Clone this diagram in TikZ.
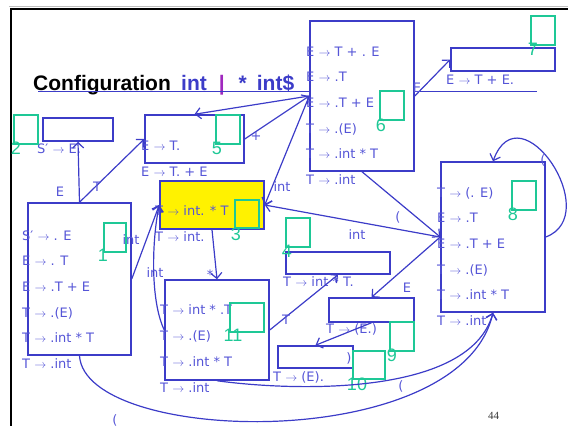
\documentclass[tikz,border=0pt]{standalone}
\usepackage{fontspec}
\setmainfont{Liberation Sans}
\newfontfamily\itemfont{DejaVu Sans}
\newfontfamily\pagefont{Liberation Serif}
\usetikzlibrary{arrows.meta,positioning}
\definecolor{slideBlue}{RGB}{60,60,200}
\definecolor{itemBlue}{RGB}{85,85,215}
\definecolor{markGreen}{RGB}{30,200,150}
\definecolor{cursorPurple}{RGB}{160,40,190}
\newcommand{\yields}{\ensuremath{\rightarrow}}

\begin{document}
\begin{tikzpicture}[
  x=1pt, y=-1pt,
  every node/.style={inner sep=0pt},
  state/.style={
    draw=slideBlue,
    fill=white,
    line width=1.5pt
  },
  greenbox/.style={
    draw=markGreen,
    line width=1.4pt,
    minimum width=24,
    minimum height=29
  },
  statenum/.style={text=markGreen, font=\fontsize{18}{18}\selectfont},
  items/.style={
    text=itemBlue,
    font=\itemfont\fontsize{13}{25.7}\selectfont,
    align=left,
    anchor=base west
  },
  lbl/.style={text=itemBlue, font=\itemfont\fontsize{13}{13}\selectfont},
  trans/.style={draw=slideBlue, line width=1.2pt, -{Straight Barb[length=5.5pt,width=11pt]}}
]
  \useasboundingbox (0,0) rectangle (568,426);
  % slide frame and configuration line
  \draw[black!25, line width=0.8pt] (9,6.5) -- (568,6.5);
  \draw[black, line width=2.5pt] (11,426) -- (11,9) -- (568,9);
  \node[anchor=base west, font=\bfseries\fontsize{21}{21}\selectfont] (title) at (33,90) {Configuration};
  \node[anchor=base west, text=slideBlue, font=\bfseries\fontsize{21}{21}\selectfont] (config) at (181,90)
    {int\hspace{12pt}\textcolor{cursorPurple}{|}\hspace{14pt}*\hspace{10pt}int\$};
  \draw[slideBlue, line width=1.3pt] (38,91.5) -- (537,91.5);

  % states
  \node[state, minimum width=103, minimum height=152] (s1) at (79.5,279) {};
  \node[state, minimum width=70, minimum height=23] (s2) at (78,129.5) {};
  \node[state, minimum width=99, minimum height=48] (s5) at (194.5,139) {};
  \node[state, fill=yellow, minimum width=104, minimum height=48] (s3) at (212,205) {};
  \node[state, minimum width=104, minimum height=22] (s4) at (338,263) {};
  \node[state, minimum width=104, minimum height=150] (s6) at (362,96) {};
  \node[state, minimum width=104, minimum height=23] (s7) at (503,59.5) {};
  \node[state, minimum width=104, minimum height=150] (s8) at (493,237) {};
  \node[state, minimum width=85, minimum height=24] (s9) at (371.5,310) {};
  \node[state, minimum width=75, minimum height=22] (s10) at (315.5,357) {};
  \node[state, minimum width=104, minimum height=100] (s11) at (217,330) {};

  % items (base = last line)
  \node[items] (t1) at (22,368.5)
    {S′ \yields{} . E\\ E \yields{} . T\\ E \yields{} .T + E\\ T \yields{} .(E)\\ T \yields{} .int * T\\ T \yields{} .int};
  \node[items] (t2) at (37,153) {S′ \yields{} E.};
  \node[items] (t5) at (141,176.5) {E \yields{} T.\\ E \yields{} T. + E};
  \node[items] (t3) at (155,241) {T \yields{} int. * T\\ T \yields{} int.};
  \node[items] (t4) at (283,286) {T \yields{} int * T.};
  \node[items] (t6) at (306,184.5)
    {E \yields{} T + . E\\ E \yields{} .T\\ E \yields{} .T + E\\ T \yields{} .(E)\\ T \yields{} .int * T\\ T \yields{} .int};
  \node[items] (t7) at (446,84) {E \yields{} T + E.};
  \node[items] (t8) at (437,325.5)
    {T \yields{} (. E)\\ E \yields{} .T\\ E \yields{} .T + E\\ T \yields{} .(E)\\ T \yields{} .int * T\\ T \yields{} .int};
  \node[items] (t9) at (326,333) {T \yields{} (E.)};
  \node[items] (t10) at (273,381) {T \yields{} (E).};
  \node[items] (t11) at (160,392)
    {T \yields{} int * .T\\ T \yields{} .(E)\\ T \yields{} .int * T\\ T \yields{} .int};

  % green markers
  \node[greenbox, minimum width=22] (g1) at (115,237.5) {};
  \node[greenbox] (g2) at (26,129.5) {};
  \node[greenbox, minimum height=28] (g3) at (247,214) {};
  \node[greenbox] (g4) at (298,232.5) {};
  \node[greenbox] (g5) at (228,129.5) {};
  \node[greenbox] (g6) at (392,105.5) {};
  \node[greenbox] (g7) at (543,30.5) {};
  \node[greenbox] (g8) at (524,195.5) {};
  \node[greenbox] (g9) at (402,336.5) {};
  \node[greenbox, minimum width=32, minimum height=28] (g10) at (369,365) {};
  \node[greenbox, minimum width=34] (g11) at (247,317.5) {};
  \node[statenum] (n1) at (103,255) {1};
  \node[statenum] (n2) at (16,148.5) {2};
  \node[statenum] (n3) at (236,234.5) {3};
  \node[statenum] (n4) at (287,251.5) {4};
  \node[statenum] (n5) at (217,148.5) {5};
  \node[statenum] (n6) at (381,125) {6};
  \node[statenum] (n7) at (533,49) {7};
  \node[statenum] (n8) at (513,214) {8};
  \node[statenum] (n9) at (392,355) {9};
  \node[statenum] (n10) at (357,384) {10};
  \node[statenum] (n11) at (233,335) {11};

  % transitions
  \draw[trans] (s1.north) -- (s2.south);
  \draw[trans] (s1.north) -- (s5.west);
  \draw[trans] (s1.east) -- (s3.west);
  \draw[trans] (s5.east) -- (s6.west);
  \draw[trans] (s6.west) -- (s5.north);
  \draw[trans] (s6.west) -- (s3.east);
  \draw[trans] (s6.east) -- (s7.west);
  \draw[trans] (s6.south) -- (s8.west);
  \draw[trans] (s8.west) -- (s3.east);
  \draw[trans] (s8.west) -- (s9.north);
  \draw[trans] (s9.south) -- (s10.north);
  \draw[trans] (s3.south) -- (s11.north);
  \draw[trans] (s11.west) .. controls (150,300) and (152,240) .. (s3.west);
  \draw[trans] (s11.east) -- (s4.south);
  \draw[trans] (s11.south) .. controls (300,392) and (470,395) .. (s8.south);
  \draw[trans] (s1.south) .. controls (85,445) and (460,455) .. (s8.south);
  \draw[trans] (s8.east) .. controls (605,215) and (520,88) .. (s8.north);

  \node[lbl] (l12) at (60,192) {E};
  \node[lbl] (l15) at (97,187) {T};
  \node[lbl] (l13) at (131,240) {int};
  \node[lbl] (l56) at (256,136) {+};
  \node[lbl] (l63) at (282,187) {int};
  \node[lbl] (l67) at (417,88) {E};
  \node[lbl] (l68) at (398,217) {(};
  \node[lbl] (l83) at (357,235) {int};
  \node[lbl] (l88) at (543,160) {(};
  \node[lbl] (l89) at (407,288) {E};
  \node[lbl] (l910) at (349,358) {)};
  \node[lbl] (l311) at (210,275) {*};
  \node[lbl] (l113) at (155,273) {int};
  \node[lbl] (l114) at (286,320) {T};
  \node[lbl] (l118) at (401,386) {(};
  \node[lbl] (l18) at (115,420) {(};

  \node[font=\pagefont\fontsize{11}{11}\selectfont, text=black!80] (page) at (493.5,415.5) {44};
\end{tikzpicture}
\end{document}
